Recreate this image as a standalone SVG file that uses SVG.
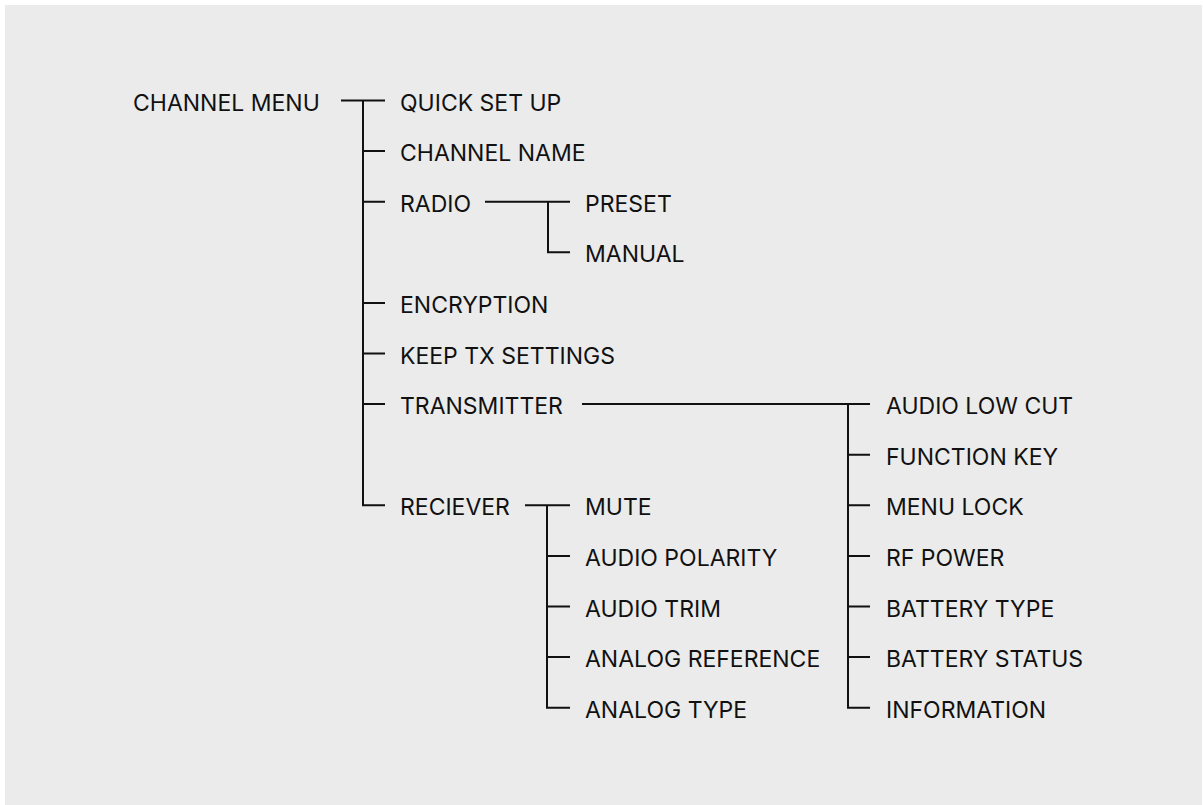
<svg xmlns="http://www.w3.org/2000/svg" width="1203" height="805" viewBox="0 0 1203 805">
<style>
text{font-family:Inter,"Noto Sans","Liberation Sans",sans-serif;font-size:23px;fill:#111}
.c{fill:none;stroke:#111;stroke-width:2;stroke-linejoin:miter;stroke-linecap:butt}
</style>
<rect x="0" y="0" width="1203" height="805" fill="#ffffff"/>
<rect x="5" y="5" width="1197" height="800" fill="#ebebeb"/>
<g id="connectors">
<path class="c" d="M341 100.5H385M363 100.5V505.3H385M363 151.1H385M363 201.7H385M363 302.9H385M363 353.5H385M363 404.1H385"/>
<path class="c" d="M485 201.7H570M548 201.7V252.3H570"/>
<path class="c" d="M582 404.1H870M848 404.1V707.7H870M848 454.7H870M848 505.3H870M848 555.9H870M848 606.5H870M848 657.1H870"/>
<path class="c" d="M525 505.3H570M547 505.3V707.7H570M547 555.9H570M547 606.5H570M547 657.1H570"/>
</g>
<g id="channel-menu"><text x="133" y="110.5">CHANNEL MENU</text></g>
<g id="quick-set-up"><text x="400" y="110.5">QUICK SET UP</text></g>
<g id="channel-name"><text x="400" y="161.1">CHANNEL NAME</text></g>
<g id="radio"><text x="400" y="211.7">RADIO</text></g>
<g id="preset"><text x="585" y="211.7">PRESET</text></g>
<g id="manual"><text x="585" y="262.3">MANUAL</text></g>
<g id="encryption"><text x="400" y="312.9">ENCRYPTION</text></g>
<g id="keep-tx-settings"><text x="400" y="363.5">KEEP TX SETTINGS</text></g>
<g id="transmitter"><text x="400" y="414.1">TRANSMITTER</text></g>
<g id="reciever"><text x="400" y="515.3">RECIEVER</text></g>
<g id="mute"><text x="585" y="515.3">MUTE</text></g>
<g id="audio-polarity"><text x="585" y="565.9">AUDIO POLARITY</text></g>
<g id="audio-trim"><text x="585" y="616.5">AUDIO TRIM</text></g>
<g id="analog-reference"><text x="585" y="667.1">ANALOG REFERENCE</text></g>
<g id="analog-type"><text x="585" y="717.7">ANALOG TYPE</text></g>
<g id="audio-low-cut"><text x="886" y="414.1">AUDIO LOW CUT</text></g>
<g id="function-key"><text x="886" y="464.7">FUNCTION KEY</text></g>
<g id="menu-lock"><text x="886" y="515.3">MENU LOCK</text></g>
<g id="rf-power"><text x="886" y="565.9">RF POWER</text></g>
<g id="battery-type"><text x="886" y="616.5">BATTERY TYPE</text></g>
<g id="battery-status"><text x="886" y="667.1">BATTERY STATUS</text></g>
<g id="information"><text x="886" y="717.7">INFORMATION</text></g>
</svg>
